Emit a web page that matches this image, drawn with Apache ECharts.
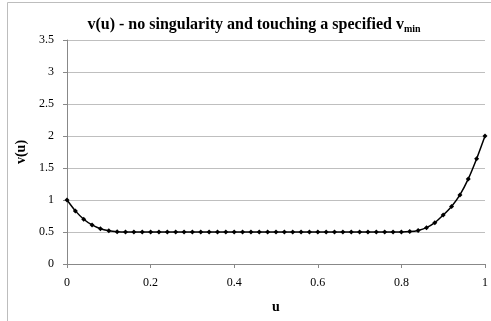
<!DOCTYPE html>
<html>
<head>
<meta charset="utf-8">
<script src="https://cdn.jsdelivr.net/npm/echarts@6/dist/echarts.min.js"></script>
<style>
  html, body { margin: 0; padding: 0; background: #fff; }
  #chart { width: 491px; height: 321px; }
</style>
</head>
<body>
<div id="chart"></div>
<script>
// Sample positions along u
const uValues = [
  0.00, 0.02, 0.04, 0.06, 0.08, 0.10, 0.12, 0.14, 0.16, 0.18,
  0.20, 0.22, 0.24, 0.26, 0.28, 0.30, 0.32, 0.34, 0.36, 0.38,
  0.40, 0.42, 0.44, 0.46, 0.48, 0.50, 0.52, 0.54, 0.56, 0.58,
  0.60, 0.62, 0.64, 0.66, 0.68, 0.70, 0.72, 0.74, 0.76, 0.78,
  0.80, 0.82, 0.84, 0.86, 0.88, 0.90, 0.92, 0.94, 0.96, 0.98,
  1.00
];
// v(u) at each sample
const vValues = [
  1.00, 0.83, 0.70, 0.61, 0.55, 0.52, 0.505, 0.50, 0.50, 0.50,
  0.50, 0.50, 0.50, 0.50, 0.50, 0.50, 0.50, 0.50, 0.50, 0.50,
  0.50, 0.50, 0.50, 0.50, 0.50, 0.50, 0.50, 0.50, 0.50, 0.50,
  0.50, 0.50, 0.50, 0.50, 0.50, 0.50, 0.50, 0.50, 0.50, 0.50,
  0.50, 0.506, 0.525, 0.568, 0.646, 0.765, 0.90, 1.08, 1.33, 1.645,
  2.00
];
const xTicks = { min: 0, max: 1, step: 0.2 };
const yTicks = { min: 0, max: 3.5, step: 0.5 };

const serif = '"Liberation Serif", "Times New Roman", serif';
const chart = echarts.init(document.getElementById('chart'), null, { renderer: 'canvas' });

chart.setOption({
  backgroundColor: '#fff',
  animation: false,
  graphic: [{
    type: 'rect',
    shape: { x: 7.5, y: 2.5, width: 600, height: 600 },
    style: { fill: 'none', stroke: '#bdbdbd', lineWidth: 1 },
    silent: true
  }],
  title: {
    text: '{a|v(u) - no singularity and touching a specified v}{b|min}',
    left: 249,
    textAlign: 'center',
    top: 11,
    textStyle: {
      rich: {
        a: { fontFamily: serif, fontWeight: 'bold', fontSize: 16, color: '#000', lineHeight: 18 },
        b: { fontFamily: serif, fontWeight: 'bold', fontSize: 10, color: '#000', verticalAlign: 'bottom', padding: [6, 0, 0, 0], lineHeight: 11 }
      }
    }
  },
  grid: { left: 67, right: 6, top: 40, bottom: 57, containLabel: false },
  xAxis: {
    type: 'value',
    min: xTicks.min, max: xTicks.max, interval: xTicks.step,
    name: 'u',
    nameLocation: 'middle',
    nameGap: 36,
    nameTextStyle: { fontFamily: serif, fontWeight: 'bold', fontSize: 14, color: '#000' },
    axisLine: { show: true, onZero: false, lineStyle: { color: '#888', width: 1 } },
    axisTick: { show: true, length: 4, lineStyle: { color: '#888' } },
    axisLabel: { margin: 13, fontFamily: serif, fontSize: 12, color: '#000' },
    splitLine: { show: false }
  },
  yAxis: {
    type: 'value',
    min: yTicks.min, max: yTicks.max, interval: yTicks.step,
    name: 'v(u)',
    nameLocation: 'middle',
    nameGap: 38,
    nameRotate: 90,
    nameTextStyle: { fontFamily: serif, fontWeight: 'bold', fontSize: 14, color: '#000' },
    axisLine: { show: true, lineStyle: { color: '#888', width: 1 } },
    axisTick: { show: true, length: 4, lineStyle: { color: '#888' } },
    axisLabel: { margin: 13, fontFamily: serif, fontSize: 12, color: '#000' },
    splitLine: { show: true, lineStyle: { color: '#bfbfbf', width: 1 } }
  },
  series: [{
    type: 'line',
    data: uValues.map((u, i) => [u, vValues[i]]),
    symbol: 'diamond',
    symbolSize: 5,
    showAllSymbol: true,
    smooth: 0.2,
    lineStyle: { color: '#000', width: 1.5 },
    itemStyle: { color: '#000' },
    clip: false
  }]
});
</script>
</body>
</html>
